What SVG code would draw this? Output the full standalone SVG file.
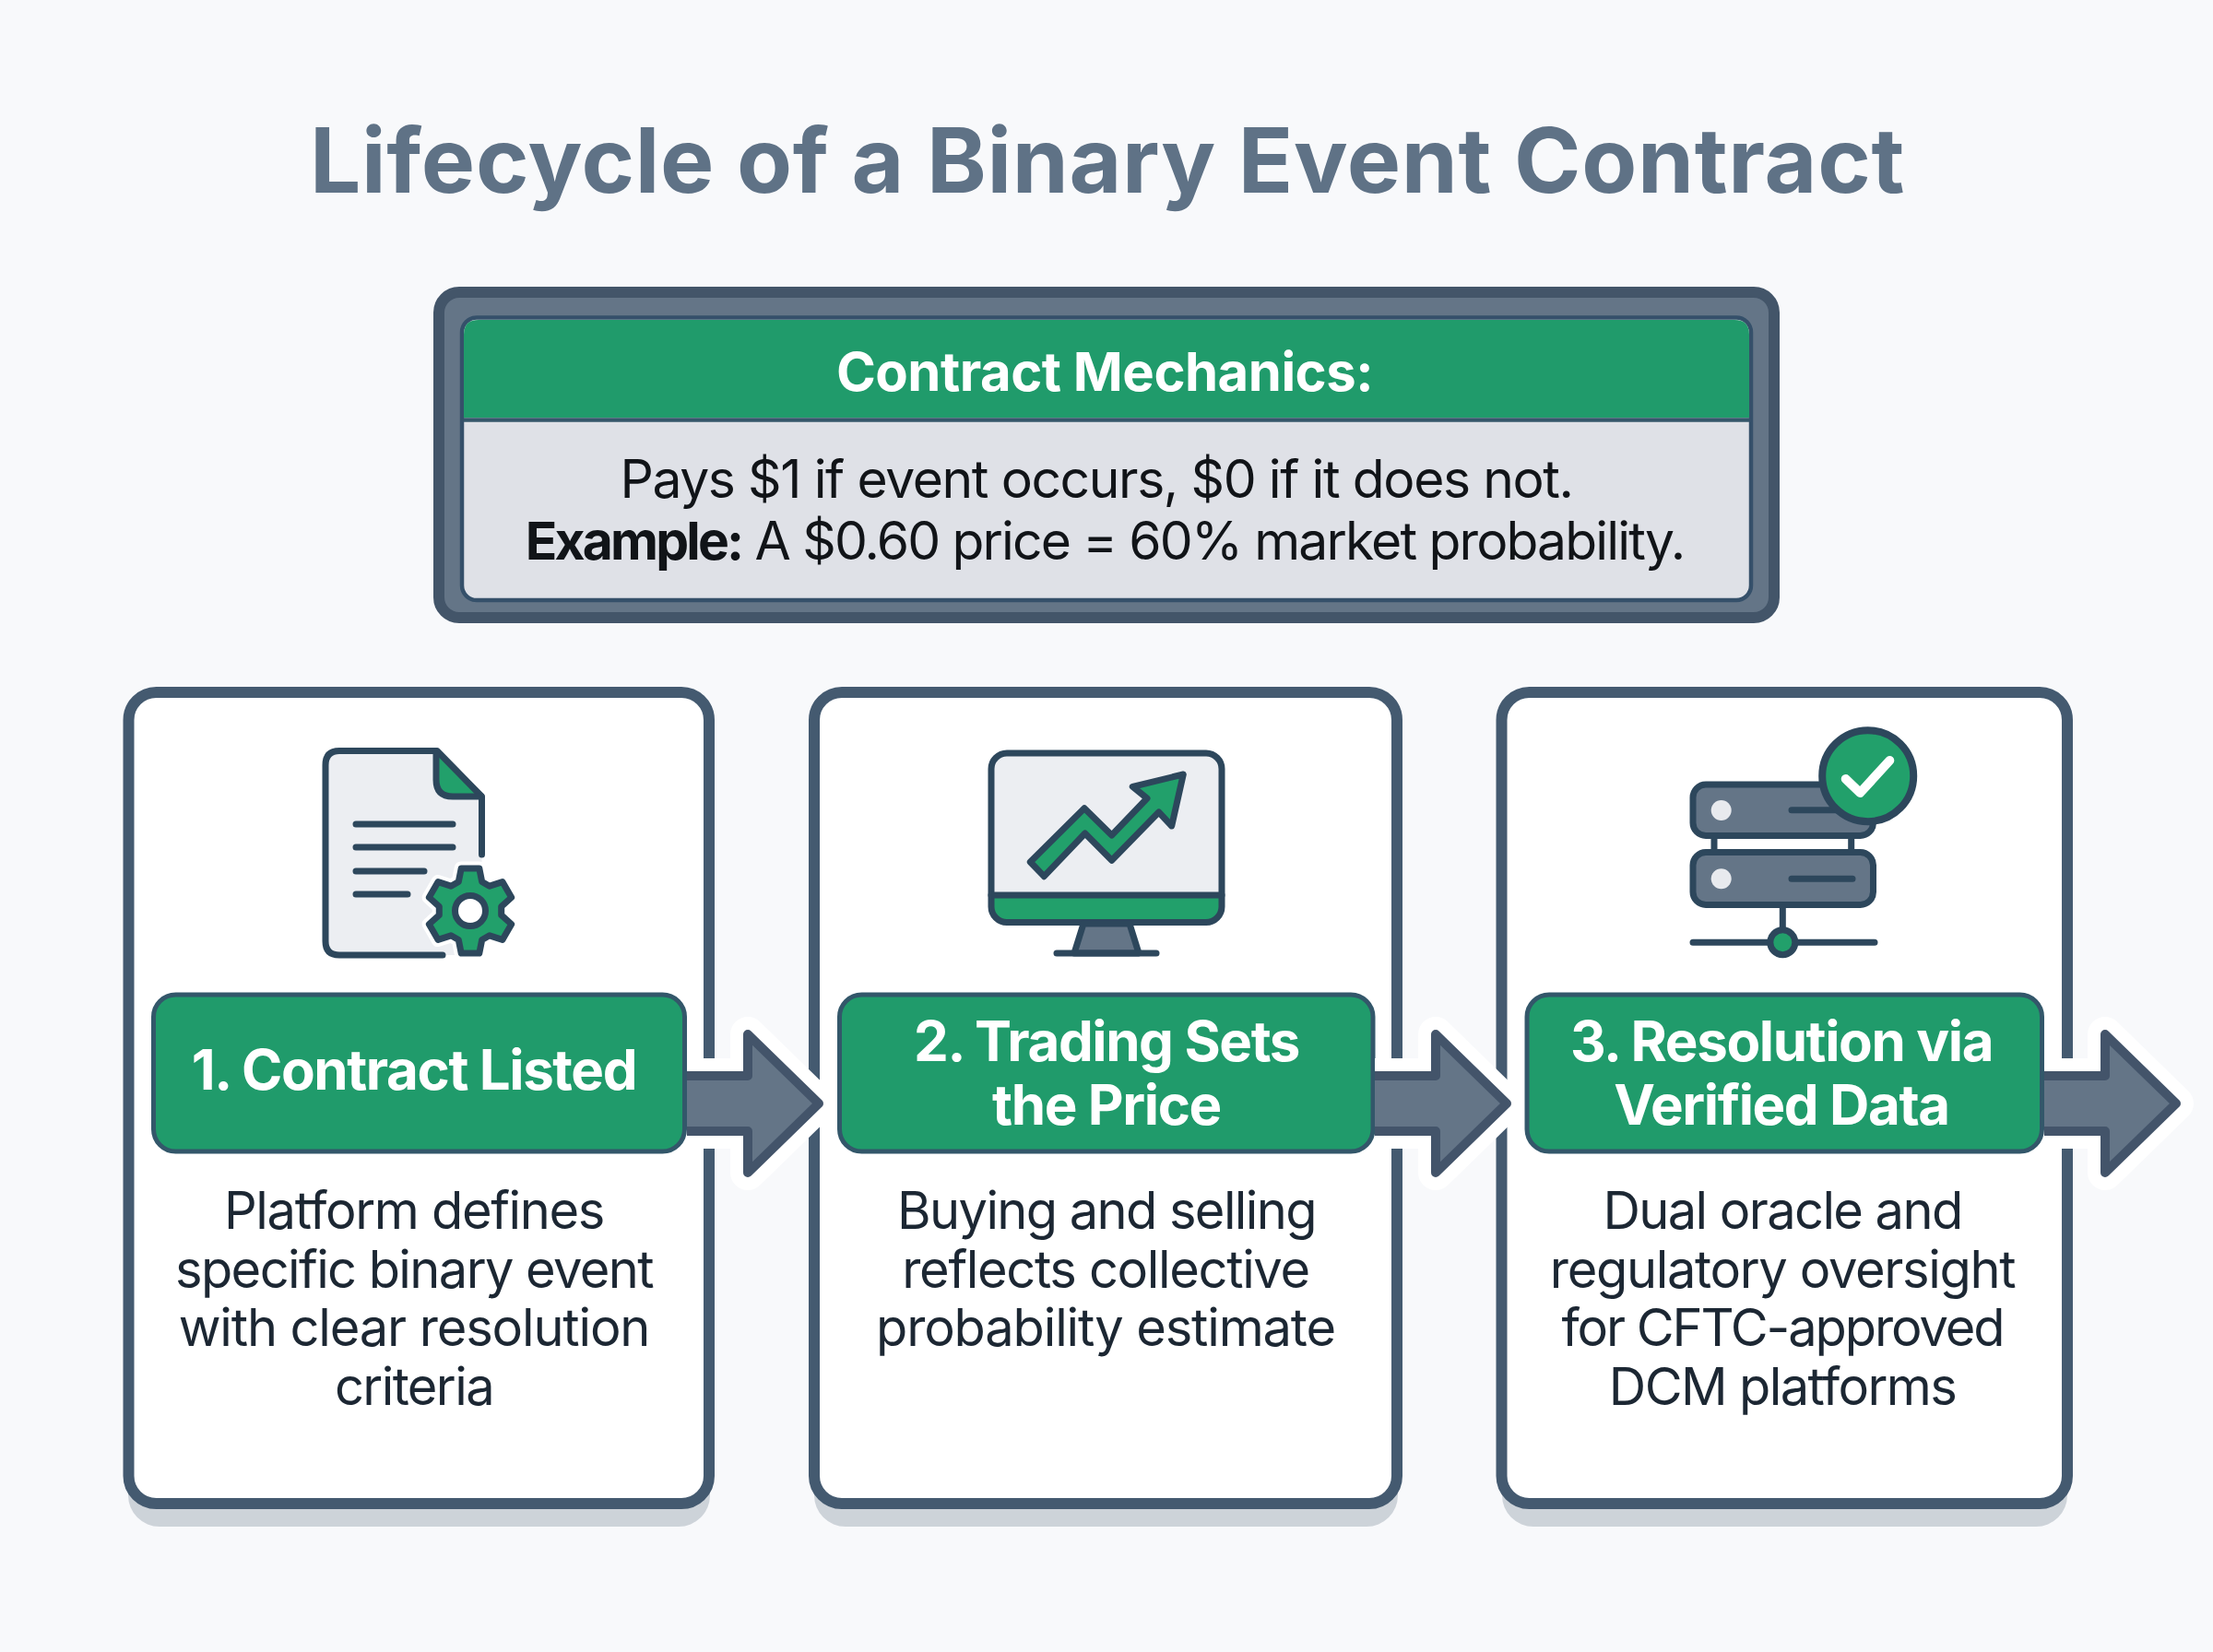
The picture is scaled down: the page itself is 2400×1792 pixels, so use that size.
<svg xmlns="http://www.w3.org/2000/svg" width="2400" height="1792" viewBox="0 0 2400 1792">
<style>
text{font-family:"Inter","Liberation Sans",sans-serif;text-anchor:middle}
.title{font-size:98px;font-weight:700;fill:#5f7286;letter-spacing:0.7px}
.mh{font-size:58px;font-weight:700;fill:#fff;letter-spacing:-0.5px}
.mb{font-size:57px;fill:#111418;letter-spacing:-1.4px}
.m2{letter-spacing:-1.85px}
.b{font-weight:700;letter-spacing:-2.8px}
.hd{font-size:60px;font-weight:700;fill:#fff;letter-spacing:-1.4px}
.bd{font-size:56px;fill:#1c2733;letter-spacing:-1.6px}
.l1{letter-spacing:-1.15px}
.l2{letter-spacing:-1.35px}
.l3{letter-spacing:-2.1px}
.shadow{fill:#cdd3d9}
.card{fill:#fff;stroke:#445a70;stroke-width:12}
.head{fill:#209b6b;stroke:#33576a;stroke-width:5}
.ink{stroke:#2d475c;stroke-width:7;stroke-linecap:round;stroke-linejoin:round;fill:none}
.paper{fill:#eceef2}
.green{fill:#22a06b}
.halo{fill:#fff;stroke:#fff;stroke-width:38;stroke-linejoin:round}
.arr{fill:#647587;stroke:#43546a;stroke-width:10;stroke-linejoin:round}
</style>
<defs>
<clipPath id="tailclip"><rect x="745" y="1050" width="220" height="300"/></clipPath>
<g id="arrow" clip-path="url(#tailclip)">
<path class="halo" d="M730 1167H811V1122L888 1197L811 1272V1227H730Z"/>
<path class="arr" d="M730 1167H811V1122L888 1197L811 1272V1227H730Z"/>
</g>
</defs>
<rect width="2400" height="1792" fill="#f8f9fb"/>
<text class="title" x="1201" y="209">Lifecycle of a Binary Event Contract</text>
<g id="mechanics">
<rect x="476" y="317" width="1448" height="353" rx="22" fill="#647587" stroke="#435569" stroke-width="12"/>
<rect x="501" y="344.500" width="1398" height="306.500" rx="16" fill="#dfe1e7" stroke="#35506a" stroke-width="4.500"/>
<path d="M503 453V363Q503 347 519 347H1881Q1897 347 1897 363V453Z" fill="#209b6b"/>
<path d="M503 455.500H1897" stroke="#35566a" stroke-width="4.500"/>
<text class="mh" x="1198" y="424">Contract Mechanics:</text>
<text class="mb" x="1189" y="540">Pays $1 if event occurs, $0 if it does not.</text>
<text class="mb m2" x="1198" y="607"><tspan class="b">Example:</tspan> A $0.60 price = 60% market probability.</text>
</g>
<g id="card1">
<rect class="shadow" x="139" y="770" width="631" height="886" rx="34"/>
<rect class="card" x="139.500" y="751" width="629.500" height="880" rx="30"/>
<g id="icon1">
<path class="paper" d="M353 830Q353 814.500 368 814.500H474L522.500 864V1036H368Q353 1036 353 1021Z"/>
<path class="green" d="M474 816L522 864H490Q474 864 474 848Z"/>
<path class="ink" d="M480 1036H368Q353 1036 353 1021V830Q353 814.500 368 814.500H474L522.500 864V927"/>
<path class="ink" d="M473 816V846Q473 864 491 864H522"/>
<path class="ink" d="M386 894H491M386 919H491M386 945H460M386 970H442"/>
<g transform="translate(510 988)">
<path d="M-12.700 -31.500L-9.800 -46L9.800 -46L12.700 -31.500L20.900 -26.800L34.900 -31.400L44.700 -14.500L33.700 -4.700L33.700 4.700L44.700 14.500L34.900 31.400L20.900 26.800L12.700 31.500L9.800 46L-9.800 46L-12.700 31.500L-20.900 26.800L-34.900 31.400L-44.700 14.500L-33.700 4.700L-33.700 -4.700L-44.700 -14.500L-34.900 -31.400L-20.900 -26.800Z" fill="#fff" stroke="#fff" stroke-width="15" stroke-linejoin="round"/>
<path class="ink" style="fill:#22a06b" d="M-12.700 -31.500L-9.800 -46L9.800 -46L12.700 -31.500L20.900 -26.800L34.900 -31.400L44.700 -14.500L33.700 -4.700L33.700 4.700L44.700 14.500L34.900 31.400L20.900 26.800L12.700 31.500L9.800 46L-9.800 46L-12.700 31.500L-20.900 26.800L-34.900 31.400L-44.700 14.500L-33.700 4.700L-33.700 -4.700L-44.700 -14.500L-34.900 -31.400L-20.900 -26.800Z"/>
<circle r="16.500" fill="#fff" stroke="#2d475c" stroke-width="7"/>
</g>
</g>
<rect class="head" x="166.500" y="1079" width="576" height="170" rx="24"/>
<text class="hd" x="449" y="1182">1. Contract Listed</text>
<text class="bd l2" x="449" y="1333">Platform defines</text>
<text class="bd" x="449" y="1397">specific binary event</text>
<text class="bd l1" x="449" y="1460">with clear resolution</text>
<text class="bd" x="449" y="1524">criteria</text>
</g>
<g id="card2">
<rect class="shadow" x="883" y="770" width="633" height="886" rx="34"/>
<rect class="card" x="883" y="751" width="632" height="880" rx="30"/>
<g id="icon2">
<path class="paper" d="M1075 971V834Q1075 817 1092 817H1308Q1325 817 1325 834V971Z"/>
<path class="green" d="M1075 971H1325V984Q1325 1000.500 1308 1000.500H1092Q1075 1000.500 1075 984Z"/>
<rect class="ink" x="1075" y="817" width="250" height="183.500" rx="17"/>
<path class="ink" d="M1075 971H1325"/>
<path class="ink" style="fill:#647587" d="M1175 1002H1225L1235 1034H1165Z"/>
<path class="ink" d="M1146 1034H1254"/>
<path class="ink" style="fill:#22a06b" d="M1117.300 935L1176 876.700L1205.700 906L1244 866L1228.300 853.300L1283.300 840L1270.700 896L1256.700 881L1205.700 933.300L1176.700 904L1132.300 950.700Z"/>
</g>
<rect class="head" x="910.500" y="1079" width="578.500" height="170" rx="24"/>
<text class="hd" x="1200" y="1151">2. Trading Sets</text>
<text class="hd" x="1200" y="1220">the Price</text>
<text class="bd" x="1200" y="1333">Buying and selling</text>
<text class="bd l2" x="1199" y="1397">reflects collective</text>
<text class="bd l1" x="1199" y="1460">probability estimate</text>
</g>
<g id="card3">
<rect class="shadow" x="1629" y="770" width="613" height="886" rx="34"/>
<rect class="card" x="1628.500" y="751" width="613.500" height="880" rx="30"/>
<g id="icon3">
<path class="ink" d="M1859 906V925M2007.700 906V925"/>
<rect class="ink" style="fill:#647587" x="1836" y="851" width="195.500" height="55.500" rx="14"/>
<rect class="ink" style="fill:#647587" x="1836" y="924.500" width="195.500" height="57" rx="14"/>
<circle cx="1866.700" cy="879" r="11" fill="#e8eaee"/>
<circle cx="1866.700" cy="953.300" r="11" fill="#e8eaee"/>
<path class="ink" d="M1943 878.700H1995M1943 953.300H2009"/>
<circle cx="2025.700" cy="841.700" r="49.500" fill="#22a06b" stroke="#2d475c" stroke-width="8"/>
<path d="M2001.700 845L2017.300 860L2049.300 825" fill="none" stroke="#fff" stroke-width="10" stroke-linecap="round" stroke-linejoin="round"/>
<path class="ink" d="M1933.300 985V1015M1836 1022.300H2033"/>
<circle cx="1933.300" cy="1022.300" r="13.500" fill="#22a06b" stroke="#2d475c" stroke-width="7"/>
</g>
<rect class="head" x="1656" y="1079" width="558.500" height="170" rx="24"/>
<text class="hd" x="1932" y="1151">3. Resolution via</text>
<text class="hd" x="1932" y="1220">Verified Data</text>
<text class="bd" x="1933" y="1333">Dual oracle and</text>
<text class="bd l2" x="1933" y="1397">regulatory oversight</text>
<text class="bd l3" x="1933" y="1460">for CFTC-approved</text>
<text class="bd" x="1933" y="1524">DCM platforms</text>
</g>
<g id="connectors">
<use href="#arrow"/>
<use href="#arrow" x="746"/>
<use href="#arrow" x="1472"/>
</g>
</svg>
